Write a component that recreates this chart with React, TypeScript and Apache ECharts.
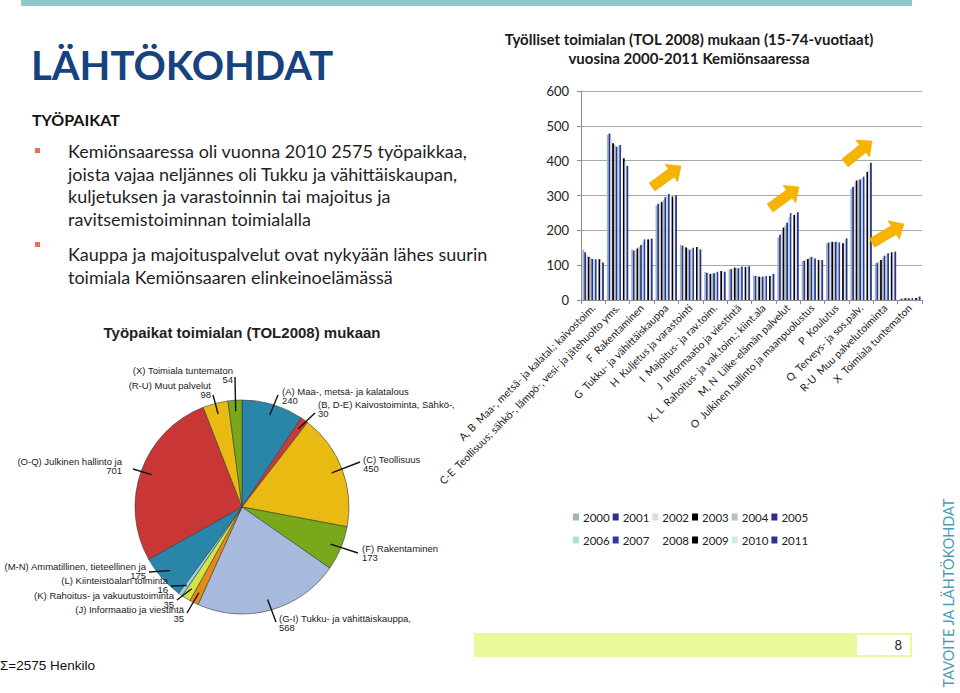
import React, { useEffect, useRef } from 'react';
import * as echarts from 'echarts';

// Työlliset toimialan mukaan 2000-2011 (bar chart)
const years = ['2000', '2001', '2002', '2003', '2004', '2005', '2006', '2007', '2008', '2009', '2010', '2011'];
const yearColors = [
  '#9bb9bd', '#2e3192', '#dcdcdc', '#000000', '#b6c1c1', '#2b2e8c',
  '#b6dcdc', '#3438a0', '#ffffff', '#000000', '#d6e9e9', '#2e3192'
];
const industries = [
  'A, B  Maa-, metsä- ja kalatal.; kaivostoim.',
  'C-E  Teollisuus; sähkö-, lämpö-, vesi- ja jätehuolto yms.',
  'F  Rakentaminen',
  'G  Tukku- ja vähittäiskauppa',
  'H  Kuljetus ja varastointi',
  'I  Majoitus- ja rav.toim.',
  'J  Informaatio ja viestintä',
  'K, L  Rahoitus- ja vak.toim.; kiint.ala',
  'M, N  Liike-elämän palvelut',
  'O  Julkinen hallinto ja maanpuolustus',
  'P  Koulutus',
  'Q  Terveys- ja sos.palv.',
  'R-U  Muu palvelutoiminta',
  'X  Toimiala tuntematon'
];
// one row per industry, one value per year 2000..2011
const abValues = [145, 137, 130, 124, 121, 118, 118, 117, 118, 117, 112, 108];
const ceValues = [474, 478, 462, 450, 446, 440, 443, 445, 425, 407, 395, 385];
const fValues = [146, 142, 144, 148, 152, 158, 165, 174, 174, 174, 175, 176];
const gValues = [272, 276, 279, 282, 288, 295, 300, 304, 300, 297, 300, 301];
const hValues = [158, 156, 153, 151, 148, 144, 147, 150, 151, 152, 150, 145];
const iValues = [80, 78, 76, 75, 76, 77, 79, 81, 82, 83, 82, 81];
const jValues = [88, 89, 91, 93, 92, 91, 94, 96, 95, 95, 96, 97];
const klValues = [70, 69, 68, 67, 67, 67, 68, 69, 69, 69, 71, 75];
const mnValues = [180, 187, 200, 208, 215, 222, 238, 249, 246, 244, 250, 252];
const oValues = [112, 113, 116, 118, 122, 124, 121, 119, 117, 115, 115, 115];
const pValues = [163, 165, 166, 167, 167, 167, 166, 165, 164, 163, 170, 177];
const qValues = [320, 325, 338, 343, 345, 346, 350, 354, 362, 368, 388, 394];
const ruValues = [105, 107, 111, 115, 121, 127, 131, 134, 136, 137, 138, 139];
const xValues = [3, 4, 6, 5, 7, 5, 4, 6, 7, 6, 8, 10];
const byIndustry = [
  abValues, ceValues, fValues, gValues, hValues, iValues, jValues,
  klValues, mnValues, oValues, pValues, qValues, ruValues, xValues
];

// Työpaikat toimialan (TOL2008) mukaan (pie)
const pieNames = [
  '(A) Maa-, metsä- ja kalatalous',
  '(B, D-E) Kaivostoiminta, Sähkö-,',
  '(C) Teollisuus',
  '(F) Rakentaminen',
  '(G-I) Tukku- ja vähittäiskauppa,',
  '(J) Informaatio ja viestintä',
  '(K) Rahoitus- ja vakuutustoiminta',
  '(L) Kiinteistöalan toiminta',
  '(M-N) Ammatillinen, tieteellinen ja',
  '(O-Q) Julkinen hallinto ja',
  '(R-U) Muut palvelut',
  '(X) Toimiala tuntematon'
];
const pieValues = [240, 30, 450, 173, 568, 35, 35, 16, 175, 701, 98, 54];
const pieColors = [
  '#2a86a8', '#c93a3a', '#e9bb12', '#7aa81b', '#a7b9dd', '#e38b16',
  '#d4e346', '#8fd4e8', '#2a86a8', '#c83636', '#e9bb12', '#7aa81b'
];

// label layout of the pie: text anchor (edge x, middle y, side) and guide line end
const pieLabelAnchor: [number, number, string][] = [
  [282, 396, 'left'], [318, 409, 'left'], [363, 464, 'left'], [362, 553, 'left'],
  [279, 623, 'left'], [184, 614, 'right'], [174, 600, 'right'], [168, 585, 'right'],
  [146, 571, 'right'], [122, 466, 'right'], [211, 390, 'right'], [233, 375, 'right']
];
const pieLineEnd = [
  [278, 395], [315, 413], [360, 462], [358, 553], [276, 622], [187, 613],
  [177, 600], [171, 586], [149, 572], [133, 469], [213, 395], [235, 377]
];

const PIE_CX = 242;
const PIE_CY = 507;

const bullet1 = [
  'Kemiönsaaressa oli vuonna 2010 2575 työpaikkaa,',
  'joista vajaa neljännes oli Tukku ja vähittäiskaupan,',
  'kuljetuksen ja varastoinnin tai majoitus ja',
  'ravitsemistoiminnan toimialalla'
];
const bullet2 = [
  'Kauppa ja majoituspalvelut ovat nykyään lähes suurin',
  'toimiala Kemiönsaaren elinkeinoelämässä'
];

const arrowPoints = (x1: number, y1: number, x2: number, y2: number) => {
  const dx = x2 - x1;
  const dy = y2 - y1;
  const len = Math.hypot(dx, dy);
  const ux = dx / len;
  const uy = dy / len;
  const nx = -uy;
  const ny = ux;
  const head = 12, shaft = 5, hw = 11;
  const bx = x2 - ux * head;
  const by = y2 - uy * head;
  return [
    [x1 + nx * shaft, y1 + ny * shaft],
    [bx + nx * shaft, by + ny * shaft],
    [bx + nx * hw, by + ny * hw],
    [x2, y2],
    [bx - nx * hw, by - ny * hw],
    [bx - nx * shaft, by - ny * shaft],
    [x1 - nx * shaft, y1 - ny * shaft]
  ];
};

const arrow = (x1: number, y1: number, x2: number, y2: number) => ({
  type: 'polygon',
  z: 100,
  shape: { points: arrowPoints(x1, y1, x2, y2) },
  style: { fill: '#f6b400', stroke: '#e8a800', lineWidth: 0.5 }
});

const FONT = 'Lato, "Open Sans", sans-serif';
const ARIAL = '"Liberation Sans", Arial, sans-serif';

export default function App() {
  const chartRef = useRef<HTMLDivElement>(null);

  useEffect(() => {
    if (!chartRef.current) return;
    const chart = echarts.init(chartRef.current, null, { renderer: 'svg' });
    const total = pieValues.reduce((a, b) => a + b, 0);

    // mid angle of every slice (clockwise from 12 o'clock) for the guide line start
    let acc = 0;
    const midAngles = pieValues.map((v) => {
      const m = ((acc + v / 2) / total) * Math.PI * 2;
      acc += v;
      return m;
    });

    const barSeries = years.map((year, i) => ({
      name: year,
      type: 'bar',
      data: byIndustry.map((row) => row[i]),
      itemStyle: { color: yearColors[i] },
      barGap: '0%',
      barCategoryGap: '12%',
      silent: true
    }));

    const legendBase = {
      left: 573,
      padding: 0,
      itemWidth: 6,
      itemHeight: 7,
      itemGap: 3,
      icon: 'rect',
      selectedMode: false,
      textStyle: { fontSize: 11.5, color: '#222', fontFamily: FONT, padding: [0, 0, 0, -1] }
    };

    const option = {
      animation: false,
      backgroundColor: '#ffffff',
      grid: { left: 581, right: 38, top: 91, bottom: 393, containLabel: false },
      xAxis: {
        type: 'category',
        data: industries,
        axisLine: { lineStyle: { color: '#8c8c8c', width: 1 } },
        axisTick: { show: true, length: 4, lineStyle: { color: '#8c8c8c' } },
        axisLabel: {
          interval: 0,
          rotate: 45,
          margin: 6,
          fontSize: 10.5,
          color: '#222',
          fontFamily: FONT
        }
      },
      yAxis: {
        type: 'value',
        min: 0,
        max: 600,
        interval: 100,
        axisLine: { show: true, lineStyle: { color: '#8c8c8c' } },
        axisTick: { show: true, length: 4, lineStyle: { color: '#8c8c8c' } },
        axisLabel: { fontSize: 13, color: '#222', margin: 12, fontFamily: FONT },
        splitLine: { lineStyle: { color: '#a8a8a8', width: 1.2 } }
      },
      legend: [
        { ...legendBase, data: years.slice(0, 6), top: 511 },
        { ...legendBase, data: years.slice(6), top: 534 }
      ],
      series: [
        ...barSeries,
        {
          type: 'pie',
          center: [PIE_CX, PIE_CY],
          radius: 107,
          silent: true,
          data: pieNames.map((n, i) => ({
            name: n,
            value: pieValues[i],
            itemStyle: { color: pieColors[i] }
          })),
          itemStyle: { borderColor: '#3a3a3a', borderWidth: 0.6 },
          label: { show: false },
          labelLine: { show: false }
        },
        {
          type: 'pie',
          center: [PIE_CX, PIE_CY],
          radius: 95,
          silent: true,
          z: 5,
          avoidLabelOverlap: false,
          data: pieNames.map((n, i) => ({ name: n, value: pieValues[i] })),
          itemStyle: { color: 'rgba(0,0,0,0)', borderWidth: 0 },
          label: {
            show: true,
            position: 'outside',
            formatter: '{b}\n{c}',
            fontSize: 9.5,
            lineHeight: 9.5,
            color: '#1a1a1a',
            fontFamily: ARIAL,
            bleedMargin: 0
          },
          labelLine: { show: true, length: 15, length2: 0, lineStyle: { color: '#111', width: 1.4 } },
          labelLayout: (params: any) => {
            const i = params.dataIndex;
            const [lx, ly, side] = pieLabelAnchor[i];
            const m = midAngles[i];
            const start = [PIE_CX + 96 * Math.sin(m), PIE_CY - 96 * Math.cos(m)];
            const end = pieLineEnd[i];
            return {
              x: lx,
              y: ly,
              align: side,
              verticalAlign: 'middle',
              hideOverlap: false,
              labelLinePoints: [start, end, end]
            };
          }
        }
      ],
      graphic: [
        { type: 'rect', shape: { x: 21, y: 0, width: 891, height: 6 }, style: { fill: '#8ec8ca' } },
        {
          type: 'text', x: 31, y: 65,
          style: { text: 'LÄHTÖKOHDAT', font: `bold 40px ${FONT}`, fill: '#17427e', verticalAlign: 'middle' }
        },
        {
          type: 'text', x: 32, y: 119,
          style: { text: 'TYÖPAIKAT', font: `bold 16px ${FONT}`, fill: '#111', verticalAlign: 'middle' }
        },
        { type: 'rect', shape: { x: 35, y: 148, width: 5, height: 5 }, style: { fill: '#e8734f' } },
        { type: 'rect', shape: { x: 35, y: 242, width: 5, height: 5 }, style: { fill: '#e8734f' } },
        {
          type: 'text', x: 68, y: 139.5,
          style: { text: bullet1.join('\n'), font: `18px ${FONT}`, lineHeight: 22.7, fill: '#1f1f1f', verticalAlign: 'top' }
        },
        {
          type: 'text', x: 68, y: 242.5,
          style: { text: bullet2.join('\n'), font: `18px ${FONT}`, lineHeight: 22.7, fill: '#1f1f1f', verticalAlign: 'top' }
        },
        {
          type: 'text', x: 242, y: 332,
          style: { text: 'Työpaikat toimialan (TOL2008) mukaan', font: `bold 15px ${ARIAL}`, fill: '#222', align: 'center', verticalAlign: 'middle' }
        },
        {
          type: 'text', x: 0, y: 665,
          style: { text: `Σ=${total} Henkilo`, font: `13.5px ${ARIAL}`, fill: '#111', verticalAlign: 'middle' }
        },
        {
          type: 'text', x: 689, y: 39,
          style: { text: 'Työlliset toimialan (TOL 2008) mukaan (15-74-vuotiaat)', font: `bold 15px ${FONT}`, fill: '#1a1a1a', align: 'center', verticalAlign: 'middle' }
        },
        {
          type: 'text', x: 689, y: 58,
          style: { text: 'vuosina 2000-2011 Kemiönsaaressa', font: `bold 15px ${FONT}`, fill: '#1a1a1a', align: 'center', verticalAlign: 'middle' }
        },
        arrow(652, 187, 681, 166),
        arrow(770, 208, 799, 187),
        arrow(845, 163, 872, 141),
        arrow(872, 243, 904, 224),
        { type: 'rect', shape: { x: 474, y: 633, width: 438, height: 24 }, style: { fill: '#ebf89b' } },
        { type: 'rect', shape: { x: 857, y: 635, width: 53, height: 20 }, style: { fill: '#ffffff' } },
        {
          type: 'text', x: 902, y: 645,
          style: { text: '8', font: `13px ${FONT}`, fill: '#222', align: 'right', verticalAlign: 'middle' }
        },
        {
          type: 'text', x: 948, y: 593, rotation: Math.PI / 2,
          style: { text: 'TAVOITE JA LÄHTÖKOHDAT', font: `14.5px ${FONT}`, fill: '#4b9db5', align: 'center', verticalAlign: 'middle' }
        }
      ]
    };

    chart.setOption(option as any);

    return () => {
      chart.dispose();
    };
  }, []);

  return (
    <div
      ref={chartRef}
      style={{ position: 'fixed', left: 0, top: 0, width: 960, height: 693, background: '#fff' }}
    />
  );
}
